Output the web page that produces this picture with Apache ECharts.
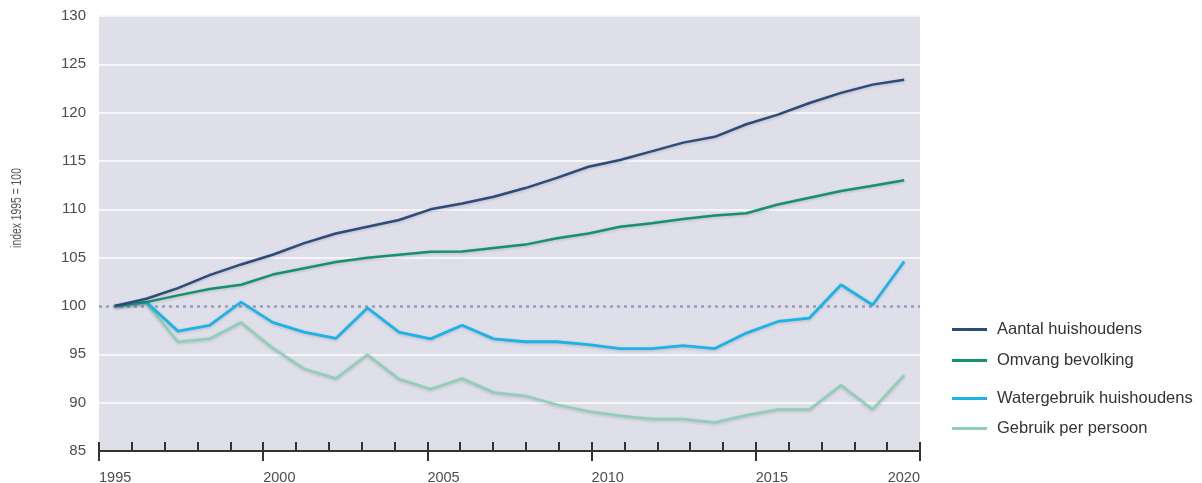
<!DOCTYPE html>
<html>
<head>
<meta charset="utf-8">
<script src="https://cdn.jsdelivr.net/npm/echarts@6/dist/echarts.min.js"></script>
<style>
  html, body { margin: 0; padding: 0; background: #ffffff; }
  #chart { width: 1202px; height: 483px; }
</style>
</head>
<body>
<div id="chart"></div>
<script>
// Index 1995 = 100
const years = [1995, 1996, 1997, 1998, 1999, 2000, 2001, 2002, 2003, 2004, 2005, 2006, 2007,
               2008, 2009, 2010, 2011, 2012, 2013, 2014, 2015, 2016, 2017, 2018, 2019, 2020];

const aantalHuishoudens = [100, 100.75, 101.85, 103.2, 104.3, 105.3, 106.5, 107.5, 108.2, 108.9,
  110.0, 110.6, 111.3, 112.2, 113.25, 114.4, 115.1, 116.0, 116.9, 117.5, 118.8, 119.8, 121.0,
  122.05, 122.9, 123.4];

const omvangBevolking = [100, 100.4, 101.1, 101.75, 102.2, 103.25, 103.9, 104.55, 105.0, 105.3,
  105.6, 105.65, 106.0, 106.35, 107.0, 107.5, 108.2, 108.55, 109.0, 109.35, 109.6, 110.5, 111.2,
  111.9, 112.45, 113.0];

const watergebruikHuishoudens = [100, 100.4, 97.4, 98.0, 100.4, 98.3, 97.3, 96.65, 99.8, 97.3,
  96.6, 98.0, 96.6, 96.3, 96.3, 96.0, 95.6, 95.6, 95.9, 95.6, 97.2, 98.4, 98.75, 102.2, 100.1,
  104.6];

const gebruikPerPersoon = [100, 100.3, 96.3, 96.6, 98.3, 95.65, 93.5, 92.5, 94.95, 92.45, 91.4,
  92.5, 91.05, 90.7, 89.8, 89.1, 88.65, 88.3, 88.3, 87.95, 88.7, 89.3, 89.3, 91.8, 89.3, 92.85];

const yTicks = { min: 85, max: 130, step: 5 };
const xTicks = { min: 1995, max: 2020, major: 5, minor: 1 };

const names = ['Aantal huishoudens', 'Omvang bevolking', 'Watergebruik huishoudens', 'Gebruik per persoon'];
const colors = ['#2d4b79', '#14926a', '#1cb3e6', '#8dd0b6'];

const FONT = '"Liberation Sans", Arial, sans-serif';
const GRID_WHITE = '#f6f6fa';

// split lines: white everywhere except at 100, which gets a dotted line
const splitColors = [];
for (let v = yTicks.min; v <= yTicks.max; v += yTicks.step) {
  splitColors.push(v === 100 ? 'rgba(0,0,0,0)' : GRID_WHITE);
}

const shadow = { shadowColor: 'rgba(40,40,70,0.22)', shadowBlur: 3, shadowOffsetY: 1 };

function lineSeries(idx, data, width, extra) {
  return Object.assign({
    name: names[idx],
    type: 'line',
    xAxisIndex: 2,
    data: data,
    symbol: 'none',
    smooth: false,
    lineStyle: Object.assign({ color: colors[idx], width: width }, shadow),
    itemStyle: { color: colors[idx] },
    z: 3
  }, extra || {});
}

function legendAt(idx, top) {
  return {
    data: [names[idx]],
    left: 947,
    top: top,
    orient: 'vertical',
    icon: 'rect',
    itemWidth: 35,
    itemHeight: 3,
    selectedMode: false,
    textStyle: { fontFamily: FONT, fontSize: 16.5, color: '#333333', padding: [0, 0, 0, 5] }
  };
}

const chart = echarts.init(document.getElementById('chart'), null, { renderer: 'canvas' });

chart.setOption({
  animation: false,
  backgroundColor: '#ffffff',
  grid: {
    left: 99, right: 282, top: 16, bottom: 32,
    outerBoundsMode: 'none',
    show: true, backgroundColor: '#dfdfea', borderWidth: 0
  },
  legend: [
    legendAt(0, 316),
    legendAt(1, 347),
    legendAt(2, 385),
    legendAt(3, 415)
  ],
  graphic: [{
    type: 'text',
    x: 17, y: 208,
    rotation: Math.PI / 2,
    scaleX: 0.74,
    style: {
      text: 'index 1995 = 100',
      fontFamily: FONT,
      fontSize: 14,
      fill: '#555555',
      align: 'center',
      verticalAlign: 'middle'
    }
  }],
  xAxis: [
    {
      // years with labels and long ticks every 5 years
      type: 'value',
      min: xTicks.min, max: xTicks.max, interval: xTicks.major,
      position: 'bottom',
      axisLine: { show: true, lineStyle: { color: '#333333', width: 2 } },
      axisTick: { show: true, inside: false, length: 10, lineStyle: { color: '#333333', width: 2 } },
      axisLabel: {
        show: true, margin: 19, fontFamily: FONT, fontSize: 14.5, color: '#4d4d4d',
        align: 'left', alignMaxLabel: 'right', showMinLabel: true, showMaxLabel: true,
        formatter: v => String(v)
      },
      splitLine: { show: false }
    },
    {
      // short inner ticks for every year
      type: 'value',
      min: xTicks.min, max: xTicks.max, interval: xTicks.minor,
      position: 'bottom',
      axisLine: { show: false },
      axisTick: { show: true, inside: true, length: 9, lineStyle: { color: '#333333', width: 2 } },
      axisLabel: { show: false },
      splitLine: { show: false }
    },
    {
      // yearly observations
      type: 'category',
      data: years,
      boundaryGap: true,
      show: false
    }
  ],
  yAxis: {
    type: 'value',
    min: yTicks.min, max: yTicks.max, interval: yTicks.step,
    axisLine: { show: false },
    axisTick: { show: false },
    axisLabel: { margin: 13, fontFamily: FONT, fontSize: 15, color: '#4d4d4d' },
    splitLine: { show: true, lineStyle: { color: splitColors, width: 2 } }
  },
  series: [
    lineSeries(3, gebruikPerPersoon, 2.5, {
      markLine: {
        silent: true,
        symbol: 'none',
        z: 1,
        label: { show: false },
        lineStyle: { color: '#9c9cba', width: 2.5, type: [3, 4] },
        data: [{ yAxis: 100 }]
      }
    }),
    lineSeries(2, watergebruikHuishoudens, 2.8),
    lineSeries(1, omvangBevolking, 2.5),
    lineSeries(0, aantalHuishoudens, 2.5)
  ]
});
</script>
</body>
</html>
